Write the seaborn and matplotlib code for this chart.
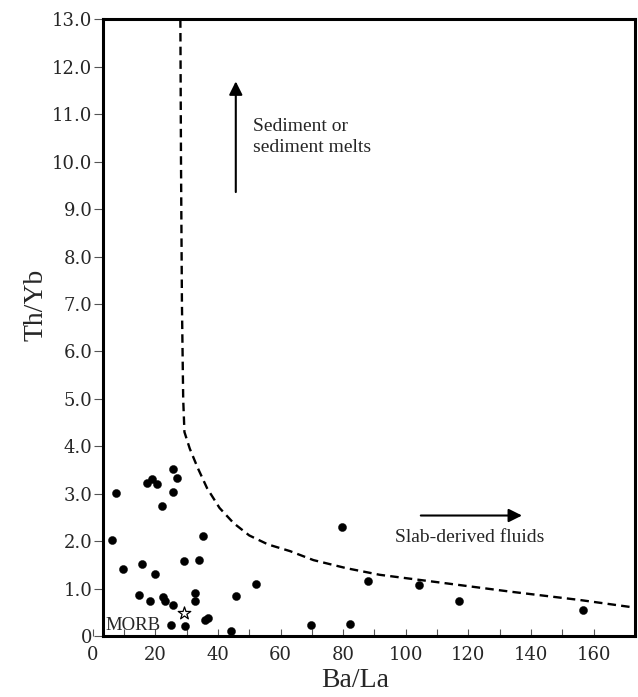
import numpy as np
import pandas as pd
import matplotlib
matplotlib.use("Agg")
import matplotlib.pyplot as plt
import seaborn as sns

# ------------------------------------------------------------
# Data
# ------------------------------------------------------------
ba_la = [7.3, 6.1, 9.6, 15.8, 19.8, 17.5, 18.9, 20.4, 25.7, 26.8,
         25.6, 22.0, 35.3, 29.1, 34.1, 14.9, 18.3, 22.3, 23.0, 25.5,
         32.6, 32.6, 45.7, 52.3, 25.1, 29.4, 35.8, 36.8, 44.3,
         79.6, 87.9, 104.2, 116.9, 156.5, 69.6, 82.2]
th_yb = [3.01, 2.02, 1.41, 1.51, 1.30, 3.22, 3.32, 3.21, 3.52, 3.34,
         3.04, 2.75, 2.11, 1.59, 1.60, 0.86, 0.74, 0.82, 0.74, 0.65,
         0.91, 0.74, 0.85, 1.10, 0.23, 0.21, 0.34, 0.38, 0.105,
         2.30, 1.17, 1.08, 0.74, 0.55, 0.24, 0.26]

# MORB reference value (star)
morb_x = [29.2]
morb_y = [0.49]

# boundary line between sediment and fluid trends
bound_x = [28.0, 28.2, 28.5, 28.9, 29.3, 31.0, 33.5, 36.5, 40.5, 45.0,
           50.0, 56.0, 63.0, 70.5, 81.0, 91.7, 113.0, 134.0, 155.5, 173.0]
bound_y = [13.0, 10.0, 7.0, 5.0, 4.3, 3.95, 3.55, 3.12, 2.7, 2.38,
           2.12, 1.93, 1.79, 1.60, 1.43, 1.29, 1.11, 0.93, 0.76, 0.60]

x_ticks = list(range(0, 170, 10))
x_ticklabels = [str(v) if v % 20 == 0 else "" for v in x_ticks]
y_ticks = list(range(0, 14))
y_ticklabels = ["0"] + [f"{v:.1f}" for v in y_ticks[1:]]

samples = pd.DataFrame({"Ba/La": ba_la, "Th/Yb": th_yb})
boundary = pd.DataFrame({"x": bound_x, "y": bound_y})

# ------------------------------------------------------------
# Style
# ------------------------------------------------------------
sns.set_style("ticks")
plt.rcParams["font.family"] = ["Liberation Serif", "DejaVu Serif"]

SERIF_TICK = "DejaVu Serif"
X_MIN, X_MAX = 0.0, 173.2
X_SPINE = 3.2

fig = plt.figure(figsize=(6.38, 6.97), dpi=100)
ax = fig.add_axes([0.1453, 0.0875, 0.850, 0.8848])

# boundary (dashed)
sns.lineplot(data=boundary, x="x", y="y", sort=False, ax=ax,
             color="black", lw=1.7, linestyle=(0, (3.6, 2.2)))

# samples
sns.scatterplot(data=samples, x="Ba/La", y="Th/Yb", ax=ax,
                color="black", s=34, edgecolor="black", linewidth=0.3,
                zorder=3)

# MORB star
sns.scatterplot(x=morb_x, y=morb_y, ax=ax, marker="*", s=90,
                facecolor="white", edgecolor="black", linewidth=0.9,
                zorder=4)

# arrows + labels
ax.annotate("", xy=(45.7, 11.75), xytext=(45.7, 9.3),
            arrowprops=dict(arrowstyle="-|>", color="black", lw=1.5,
                            mutation_scale=20))
ax.text(51.1, 10.52, "Sediment or\nsediment melts", fontsize=14,
        ha="left", va="center", linespacing=1.3)

ax.annotate("", xy=(138.0, 2.54), xytext=(103.9, 2.54),
            arrowprops=dict(arrowstyle="-|>", color="black", lw=1.5,
                            mutation_scale=20))
ax.text(96.5, 2.07, "Slab-derived fluids", fontsize=14,
        ha="left", va="center")

ax.text(4.2, 0.04, "MORB", fontsize=13.5, ha="left", va="bottom")

# ------------------------------------------------------------
# Axes
# ------------------------------------------------------------
ax.set_xlim(X_MIN, X_MAX)
ax.set_ylim(0, 13)

for side in ["left", "right", "top", "bottom"]:
    ax.spines[side].set_visible(True)
    ax.spines[side].set_linewidth(2.2)
    ax.spines[side].set_color("black")
ax.spines["left"].set_position(("data", X_SPINE))
ax.spines["bottom"].set_bounds(X_SPINE, X_MAX)
ax.spines["top"].set_bounds(X_SPINE, X_MAX)

ax.set_xticks(x_ticks)
ax.set_xticklabels(x_ticklabels, family=SERIF_TICK, fontsize=13)
ax.set_yticks(y_ticks)
ax.set_yticklabels(y_ticklabels, family=SERIF_TICK, fontsize=13)

ax.tick_params(axis="x", direction="in", length=5, width=0.8,
               color="#555555", pad=7)
ax.tick_params(axis="y", direction="out", length=6.5, width=0.8,
               color="#555555", pad=1)

ax.set_xlabel("Ba/La", fontsize=20)
ax.set_ylabel("Th/Yb", fontsize=20)
ax.xaxis.set_label_coords(0.484, -0.052)
ax.yaxis.set_label_coords(-0.082, 0.537)

fig.savefig("out.png", dpi=100)
